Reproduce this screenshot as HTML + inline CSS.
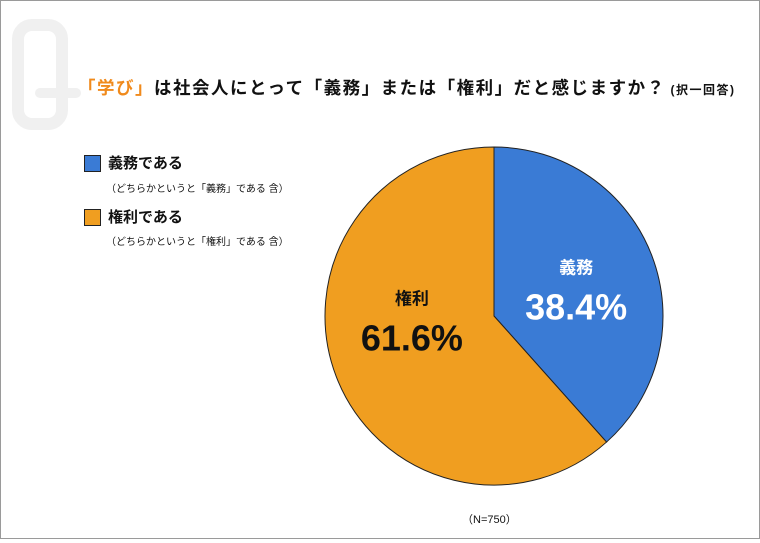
<!DOCTYPE html>
<html><head><meta charset="utf-8"><style>
body{margin:0;background:#fff;}
#wrap{position:relative;width:760px;height:543px;overflow:hidden;font-family:"Liberation Sans","Noto Sans CJK JP",sans-serif;}
.frame{position:absolute;left:0;top:0;width:758px;height:537px;border:1px solid #9a9a9a;}
.t{position:absolute;white-space:nowrap;color:#111;}
</style></head><body>
<div id="wrap">
<div class="frame"></div>
<svg width="760" height="543" style="position:absolute;left:0;top:0">
<rect x="18" y="25" width="44" height="99" rx="14" fill="none" stroke="#f0f0f0" stroke-width="12"/>
<line x1="40" y1="93" x2="76" y2="93" stroke="#f0f0f0" stroke-width="10" stroke-linecap="round"/>
</svg>
<div class="t" style="left:78px;top:75px;font-size:17.5px;font-weight:bold;letter-spacing:1.5px"><span style="color:#f08a1c">「学び」</span>は社会人にとって「義務」または「権利」だと感じますか？<span style="font-size:12px"> (択一回答)</span></div>
<div style="position:absolute;left:84px;top:155px;width:15px;height:15px;background:#3a7bd5;border:1px solid #222"></div>
<div class="t" style="left:108px;top:152px;font-size:15px;font-weight:bold">義務である</div>
<div class="t" style="left:106px;top:180px;font-size:10px">（どちらかというと「義務」である 含）</div>
<div style="position:absolute;left:84px;top:209px;width:15px;height:15px;background:#f09e20;border:1px solid #222"></div>
<div class="t" style="left:108px;top:206px;font-size:15px;font-weight:bold">権利である</div>
<div class="t" style="left:106px;top:233px;font-size:10px">（どちらかというと「権利」である 含）</div>
<svg id="pie" width="760" height="543" style="position:absolute;left:0;top:0"></svg>
<div class="t" style="left:462px;top:511px;font-size:11px">（N=750）</div>
</div>
<script>
const categories=["義務","権利"];
const values=[38.4,61.6];
const colors=["#3a7bd5","#f09e20"];
const cx=494,cy=316,r=169;
const svg=document.getElementById('pie');


const NS="http://www.w3.org/2000/svg";
const total=values.reduce((a,b)=>a+b,0);
let start=0;
values.forEach((v,i)=>{
  const a0=start/total*2*Math.PI, a1=(start+v)/total*2*Math.PI;
  start+=v;
  const x0=cx+r*Math.sin(a0),y0=cy-r*Math.cos(a0),x1=cx+r*Math.sin(a1),y1=cy-r*Math.cos(a1);
  const p=document.createElementNS(NS,'path');
  p.setAttribute('d',`M${cx},${cy} L${x0},${y0} A${r},${r} 0 ${a1-a0>Math.PI?1:0} 1 ${x1},${y1} Z`);
  p.setAttribute('fill',colors[i]);p.setAttribute('stroke','#222');p.setAttribute('stroke-width','1');
  
  
  svg.appendChild(p);
  const fill=i==0?'#fff':'#111';
  const am=(a0+a1)/2;
  const lx=cx+r*0.52*Math.sin(am), ly=cy-r*0.26*Math.cos(am);
  const t1=document.createElementNS(NS,'text');
  t1.setAttribute('x',lx);t1.setAttribute('y',ly-27);t1.setAttribute('text-anchor','middle');
  t1.setAttribute('font-size','17');t1.setAttribute('font-weight','bold');t1.setAttribute('fill',fill);
  t1.setAttribute('font-family','"Liberation Sans","Noto Sans CJK JP",sans-serif');
  t1.textContent=categories[i];
  
  
  svg.appendChild(t1);
  const t2=document.createElementNS(NS,'text');
  t2.setAttribute('x',lx);t2.setAttribute('y',ly+19);t2.setAttribute('text-anchor','middle');
  t2.setAttribute('font-size','36');t2.setAttribute('font-weight','bold');t2.setAttribute('fill',fill);
  t2.setAttribute('font-family','"Liberation Sans",sans-serif');
  t2.textContent=v.toFixed(1)+'%';
  
  
  svg.appendChild(t2);
});
</script>
</body></html>
